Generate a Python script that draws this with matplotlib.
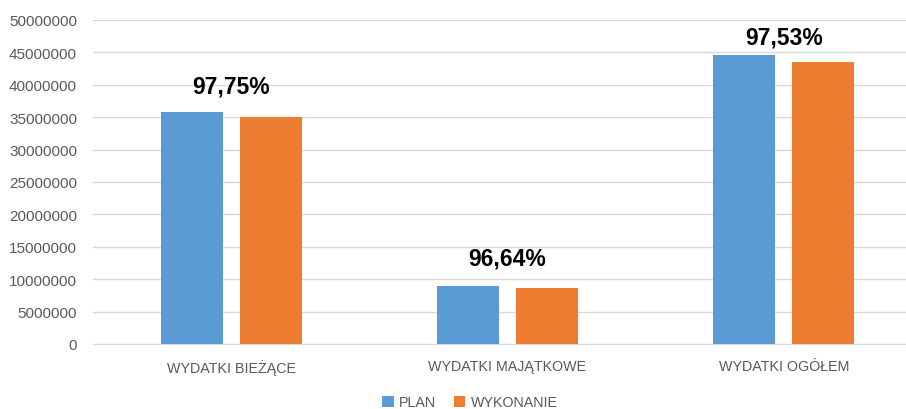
import matplotlib.pyplot as plt
import numpy as np

# dane
kategorie = ['WYDATKI BIEŻĄCE', 'WYDATKI MAJĄTKOWE', 'WYDATKI OGÓŁEM']
plan = [35800000, 8900000, 44550000]
wykonanie = [35000000, 8600000, 43450000]
procenty = ['97,75%', '96,64%', '97,53%']
y_ticks = [0, 5000000, 10000000, 15000000, 20000000, 25000000,
           30000000, 35000000, 40000000, 45000000, 50000000]

plt.rcParams['font.family'] = ['Liberation Sans', 'DejaVu Sans']

fig = plt.figure(figsize=(9.06, 4.10), dpi=100)
ax = fig.add_axes([93 / 906, 65 / 410, 829 / 906, 324 / 410])

x = np.arange(len(kategorie))
szer = 0.224
ax.bar(x - 0.143, plan, szer, color='#5B9BD5', label='PLAN', zorder=3)
ax.bar(x + 0.143, wykonanie, szer, color='#ED7D31', label='WYKONANIE', zorder=3)

# etykiety procentowe nad grupami (odstęp od słupka w pikselach)
odstep = [20, 22, 12]
for i, txt in enumerate(procenty):
    ax.annotate(txt, (x[i], max(plan[i], wykonanie[i])), xytext=(0, odstep[i]),
                textcoords='offset pixels', ha='center', va='baseline',
                fontsize=16.5, fontweight='bold', color='black')

ax.set_xlim(-0.5, 2.5)
ax.set_ylim(0, 50000000)
ax.set_yticks(y_ticks)
ax.set_yticklabels([str(v) for v in y_ticks])
ax.set_xticks(x)
ax.set_xticklabels(kategorie)
ax.tick_params(axis='both', length=0, colors='#595959')
ax.tick_params(axis='y', pad=11.5, labelsize=11)
ax.tick_params(axis='x', pad=11, labelsize=10.3)
ax.grid(axis='y', color='#d9d9d9', linewidth=1, zorder=0)
for s in ['top', 'right', 'left']:
    ax.spines[s].set_visible(False)
ax.spines['bottom'].set_color('#d9d9d9')

leg = fig.legend(loc='center', bbox_to_anchor=(470 / 906, 1 - 403 / 410), ncol=2,
                 frameon=False, fontsize=10.3, handlelength=0.8, handleheight=0.8,
                 handletextpad=0.4, columnspacing=1.2)
for t in leg.get_texts():
    t.set_color('#595959')

plt.savefig('out.png', dpi=100)
